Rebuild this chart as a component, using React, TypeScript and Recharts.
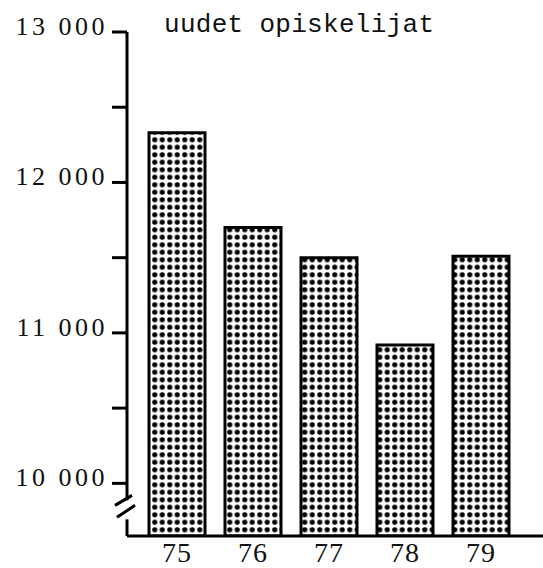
import { Bar, BarChart, XAxis, YAxis } from "recharts";

const years = ["75", "76", "77", "78", "79"];
const students = [12330, 11700, 11500, 10920, 11510];
const yTicks = [10000, 10500, 11000, 11500, 12000, 12500, 13000];
const labelledTicks = [10000, 11000, 12000, 13000];

const data = years.map((year, i) => ({ year, value: students[i] }));

const fmt = (v: number) => `${Math.floor(v / 1000)} ${String(v % 1000).padStart(3, "0")}`;

const YTick = (props: any) => {
  const { x, y, payload } = props;
  const v = payload.value as number;
  const axisX = x + 19;
  return (
    <g>
      {labelledTicks.includes(v) && (
        <text
          x={x}
          y={y + 3}
          textAnchor="end"
          fontFamily="Liberation Serif"
          fontSize={26}
          letterSpacing={3.5}
          fill="#111"
        >
          {fmt(v)}
        </text>
      )}
      {v === 10000 && (
        <g>
          {/* axis break */}
          <rect x={axisX - 4} y={y + 17} width={8} height={19} fill="#fff" />
          <line x1={axisX - 12} y1={y + 22} x2={axisX + 5} y2={y + 12} stroke="#000" strokeWidth={3} />
          <line x1={axisX - 10} y1={y + 34} x2={axisX + 8} y2={y + 22} stroke="#000" strokeWidth={3} />
        </g>
      )}
    </g>
  );
};

const XTick = (props: any) => {
  const { x, y, payload } = props;
  return (
    <text
      x={x}
      y={y + 24}
      textAnchor="middle"
      fontFamily="Liberation Serif"
      fontSize={28}
      letterSpacing={1}
      fill="#111"
    >
      {payload.value}
    </text>
  );
};

export default function App() {
  return (
    <div style={{ position: "absolute", left: 0, top: 0, width: 543, height: 568, background: "#fff" }}>
      <BarChart
        width={543}
        height={568}
        data={data}
        margin={{ top: 32, right: 0, bottom: 0, left: 0 }}
      >
        <defs>
          <pattern id="dots" patternUnits="userSpaceOnUse" width={7.5} height={7.5} x={1} y={1}>
            <rect width={7.5} height={7.5} fill="#fff" />
            <circle cx={3.75} cy={3.75} r={2.6} fill="#000" />
          </pattern>
        </defs>
        <XAxis
          dataKey="year"
          height={32}
          padding={{ left: 12, right: 24 }}
          axisLine={{ stroke: "#000", strokeWidth: 3 }}
          tickLine={false}
          tickSize={0}
          tick={<XTick />}
          interval={0}
        />
        <YAxis
          width={127}
          domain={[9650, 13000]}
          allowDataOverflow
          ticks={yTicks}
          interval={0}
          tickSize={15}
          tickMargin={4}
          axisLine={{ stroke: "#000", strokeWidth: 3 }}
          tickLine={{ stroke: "#000", strokeWidth: 3 }}
          tick={<YTick />}
        />
        <Bar
          dataKey="value"
          barSize={56}
          fill="url(#dots)"
          stroke="#000"
          strokeWidth={3}
          isAnimationActive={false}
        />
      </BarChart>
      <div
        style={{
          position: "absolute",
          left: 164,
          top: 10,
          fontFamily: "Liberation Mono",
          fontSize: 26,
          letterSpacing: 0.3,
          color: "#111",
          whiteSpace: "nowrap",
        }}
      >
        uudet opiskelijat
      </div>
    </div>
  );
}
